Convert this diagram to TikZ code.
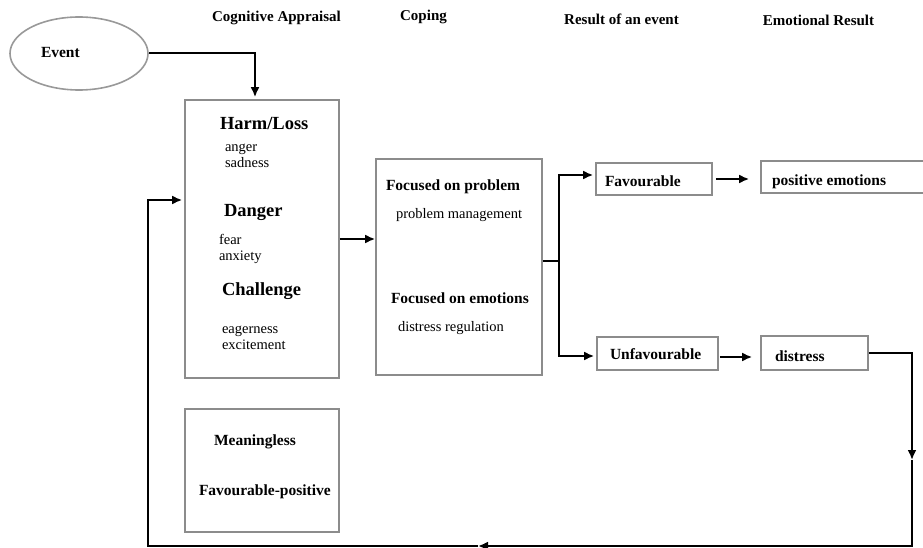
\documentclass[tikz,border=0pt]{standalone}
\usepackage{fontspec}
\setmainfont{Liberation Serif}
\usetikzlibrary{shapes.geometric,arrows.meta}

\begin{document}
\begin{tikzpicture}[x=1pt, y=-1pt, line width=2pt, >={Latex[length=10pt,width=9pt]},
  box/.style={draw=black!45, line width=1.6pt, inner sep=0pt},
  head/.style={font=\fontsize{15}{18}\selectfont\bfseries, inner sep=0pt},
  big/.style={font=\fontsize{18.5}{22}\selectfont\bfseries, inner sep=0pt, anchor=west},
  lbl/.style={font=\fontsize{15.5}{18}\selectfont\bfseries, inner sep=0pt, anchor=west},
  word/.style={font=\fontsize{14.5}{16}\selectfont, inner sep=0pt, anchor=west, align=left}]

  \clip (0,0) rectangle (923,548);
  \fill[white] (0,0) rectangle (923,548);

  % column titles
  \node[head] (h-appr) at (276.5,18) {Cognitive Appraisal};
  \node[head] (h-cope) at (423.5,17) {Coping};
  \node[head] (h-res) at (621.5,19) {Result of an event};
  \node[head] (h-emo) at (818.5,20) {Emotional Result};

  % boxes
  \node[ellipse, draw=black!40, line width=1.6pt, minimum width=138pt, minimum height=73pt] (event) at (79,53.5) {};
  \node[lbl] (event-t) at (40,53) {Event};

  \node[box, minimum width=154pt, minimum height=278pt] (appr) at (262,239) {};
  \node[box, minimum width=154pt, minimum height=123pt] (mean) at (262,470.5) {};
  \node[box, minimum width=166pt, minimum height=216pt] (cope) at (459,267) {};
  \node[box, minimum width=116pt, minimum height=32pt] (fav) at (654,179) {};
  \node[box, minimum width=121pt, minimum height=33pt] (unfav) at (657.5,353.5) {};
  \node[box, minimum width=170pt, minimum height=32pt] (pos) at (846,177) {};
  \node[box, minimum width=107pt, minimum height=34pt] (dist) at (814.5,353) {};

  % appraisal
  \node[big] (harm) at (219,123) {Harm/Loss};
  \node[word] (harm-w) at (224,156) {anger\\sadness};
  \node[big] (danger) at (223,212) {Danger};
  \node[word] (danger-w) at (218,249) {fear\\anxiety};
  \node[big] (chall) at (221,291) {Challenge};
  \node[word] (chall-w) at (221,338) {eagerness\\excitement};
  \node[lbl] (meanl) at (213,442) {Meaningless};
  \node[lbl] (favpos) at (198,492) {Favourable-positive};

  % coping
  \node[lbl] (prob) at (385,187) {Focused on problem};
  \node[word] (prob-w) at (395,215) {problem management};
  \node[lbl] (emot) at (390,298) {Focused on emotions};
  \node[word] (emot-w) at (397,328) {distress regulation};

  % results
  \node[lbl] (fav-t) at (604,181) {Favourable};
  \node[lbl] (unfav-t) at (609,354) {Unfavourable};
  \node[lbl] (pos-t) at (771,182) {positive emotions};
  \node[lbl] (dist-t) at (774,356) {distress};

  % connectors
  \draw[->, shorten >=2pt] (event.east) -| ([xshift=-7pt]appr.north);
  \draw[->] (appr.east) -- (appr.east -| cope.west);
  \coordinate (split) at (559,261);
  \draw (cope.east |- split) -- (split);
  \draw[->, shorten >=2pt] (split) |- ([yshift=4pt]fav.west);
  \draw[->, shorten >=2pt] (split) |- ([yshift=-2.5pt]unfav.west);
  \draw[->, shorten <=3pt, shorten >=11pt] (fav.east) -- (fav.east -| pos.west);
  \draw[->, shorten <=1pt, shorten >=8pt] ([yshift=-3.5pt]unfav.east) -- ([yshift=-3.5pt]unfav.east -| dist.west);

  % feedback loop
  \coordinate (fbA) at (912,460);
  \coordinate (fbB) at (478,546);
  \coordinate (fbC) at (148,200);
  \draw[->] (dist.east) -| (fbA);
  \draw[->] (fbA) |- (fbB);
  \draw[->, shorten >=2pt] (fbB) -| (fbC) -- (fbC -| appr.west);

\end{tikzpicture}
\end{document}
